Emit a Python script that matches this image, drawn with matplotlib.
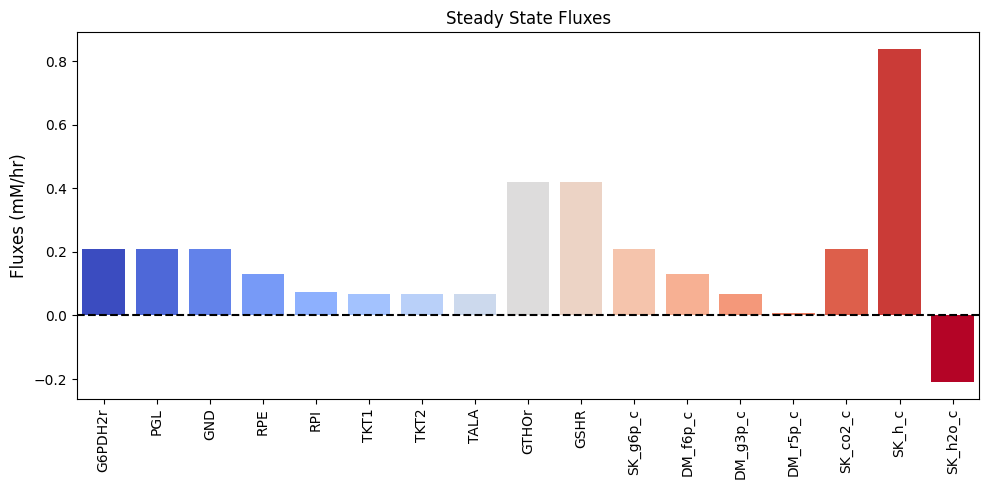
import matplotlib
matplotlib.use("Agg")
import matplotlib.pyplot as plt
import numpy as np
import seaborn as sns

reactions = ["G6PDH2r", "PGL", "GND", "RPE", "RPI", "TKT1", "TKT2", "TALA",
             "GTHOr", "GSHR", "SK_g6p_c", "DM_f6p_c", "DM_g3p_c", "DM_r5p_c",
             "SK_co2_c", "SK_h_c", "SK_h2o_c"]
fluxes = [0.21, 0.21, 0.21, 0.132, 0.075, 0.066, 0.066, 0.066,
          0.42, 0.42, 0.21, 0.132, 0.066, 0.009,
          0.21, 0.84, -0.21]

# full coolwarm range, first bar deep blue, last bar deep red
colors = [plt.cm.coolwarm(v) for v in np.linspace(0, 1, len(reactions))]

fig, ax = plt.subplots(figsize=(9.89, 4.9), dpi=100)
sns.barplot(x=reactions, y=fluxes, hue=reactions, palette=colors,
            saturation=1, legend=False, ax=ax)
ax.axhline(0, color="black", linestyle="--", linewidth=1.5)
ax.set_title("Steady State Fluxes")
ax.set_ylabel("Fluxes (mM/hr)", fontsize=12)
ax.tick_params(axis="x", rotation=90)
fig.subplots_adjust(left=0.078, right=0.990, top=0.935, bottom=0.186)
fig.savefig("out.png")
